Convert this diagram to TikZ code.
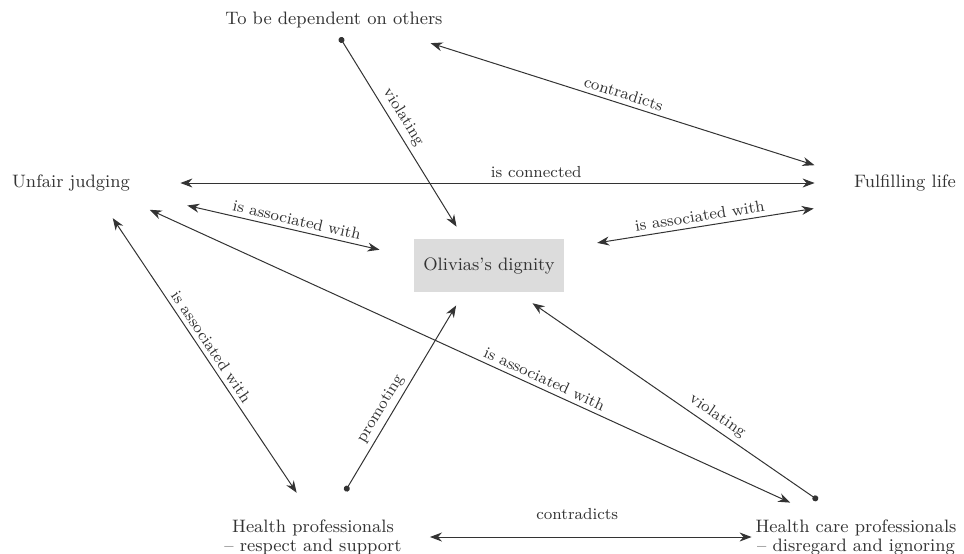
\documentclass[tikz,border=0pt]{standalone}
\usepackage{tikz}
\usetikzlibrary{arrows.meta}
\definecolor{inkgray}{HTML}{333333}
\definecolor{boxgray}{HTML}{DCDCDC}
\tikzstyle{concept} = [inner sep=0pt, minimum height=9pt, text=inkgray, font=\fontsize{9}{9.5}\selectfont, align=center]
\tikzstyle{centre} = [concept, fill=boxgray, minimum width=75pt, minimum height=26.5pt]
\tikzstyle{link} = [draw=inkgray, line width=0.5pt, <->]
\tikzstyle{effect} = [draw=inkgray, line width=0.5pt, {Circle[length=3pt]}->]
\tikzstyle{lbl} = [font=\footnotesize, text=inkgray, inner sep=2.2pt, sloped, above]

\begin{document}
\begin{tikzpicture}[x=0.5pt, y=-0.5pt, >={Stealth[length=6pt,width=4.5pt]}]
\useasboundingbox (0,0) rectangle (964,553);

% concepts
\node (dep) [concept, minimum width=109pt] at (334,20) {To be dependent on others};
\node (unfair) [concept, minimum width=61pt] at (71,183) {Unfair judging};
\node (fulfil) [concept, minimum width=51pt] at (905,183) {Fulfilling life};
\node (dignity) [centre] at (489,265.5) {Olivias's dignity};
\node (hpro) [concept, minimum width=84pt] at (313,537) {Health professionals\\ -- respect and support};
\node (hcare) [concept, minimum width=103pt] at (856,537) {Health care professionals\\ -- disregard and ignoring};

% relations
\draw[effect, shorten <=4.7pt, shorten >=7pt] (dep.-84) -- (dignity.133) node[lbl, pos=0.45] {violating};
\draw[link, shorten <=22.7pt, shorten >=20.5pt] (dep.-10) -- (fulfil.174) node[lbl, midway] {contradicts};
\draw[link, shorten <=24pt, shorten >=19.5pt] (unfair) -- (fulfil) node[lbl, pos=0.56] {is connected};
\draw[link, shorten <=29.2pt, shorten >=17.5pt] (unfair.-9) -- (dignity.174) node[lbl, pos=0.58] {is associated with};
\draw[link, shorten <=16.6pt, shorten >=51.5pt] (dignity.13) -- (fulfil.-42) node[lbl, pos=0.39] {is associated with};
\draw[link, shorten <=15.5pt, shorten >=15.8pt] (unfair.-21) -- (hpro.86) node[lbl, pos=0.49] {is associated with};
\draw[link, shorten <=20.9pt, shorten >=19.6pt] (unfair.-13) -- (hcare.149) node[lbl, pos=0.6] {is associated with};
\draw[effect, shorten <=16.2pt, shorten >=7.6pt] (hpro.49) -- (dignity.-133) node[lbl, pos=0.46] {promoting};
\draw[effect, shorten <=16.6pt, shorten >=9.5pt] (hcare.121) -- (dignity.-44) node[lbl, pos=0.41] {violating};
\draw[link, shorten <=14pt, shorten >=0.5pt] (hpro) -- (hcare) node[lbl, midway, above=6pt] {contradicts};
\end{tikzpicture}
\end{document}
